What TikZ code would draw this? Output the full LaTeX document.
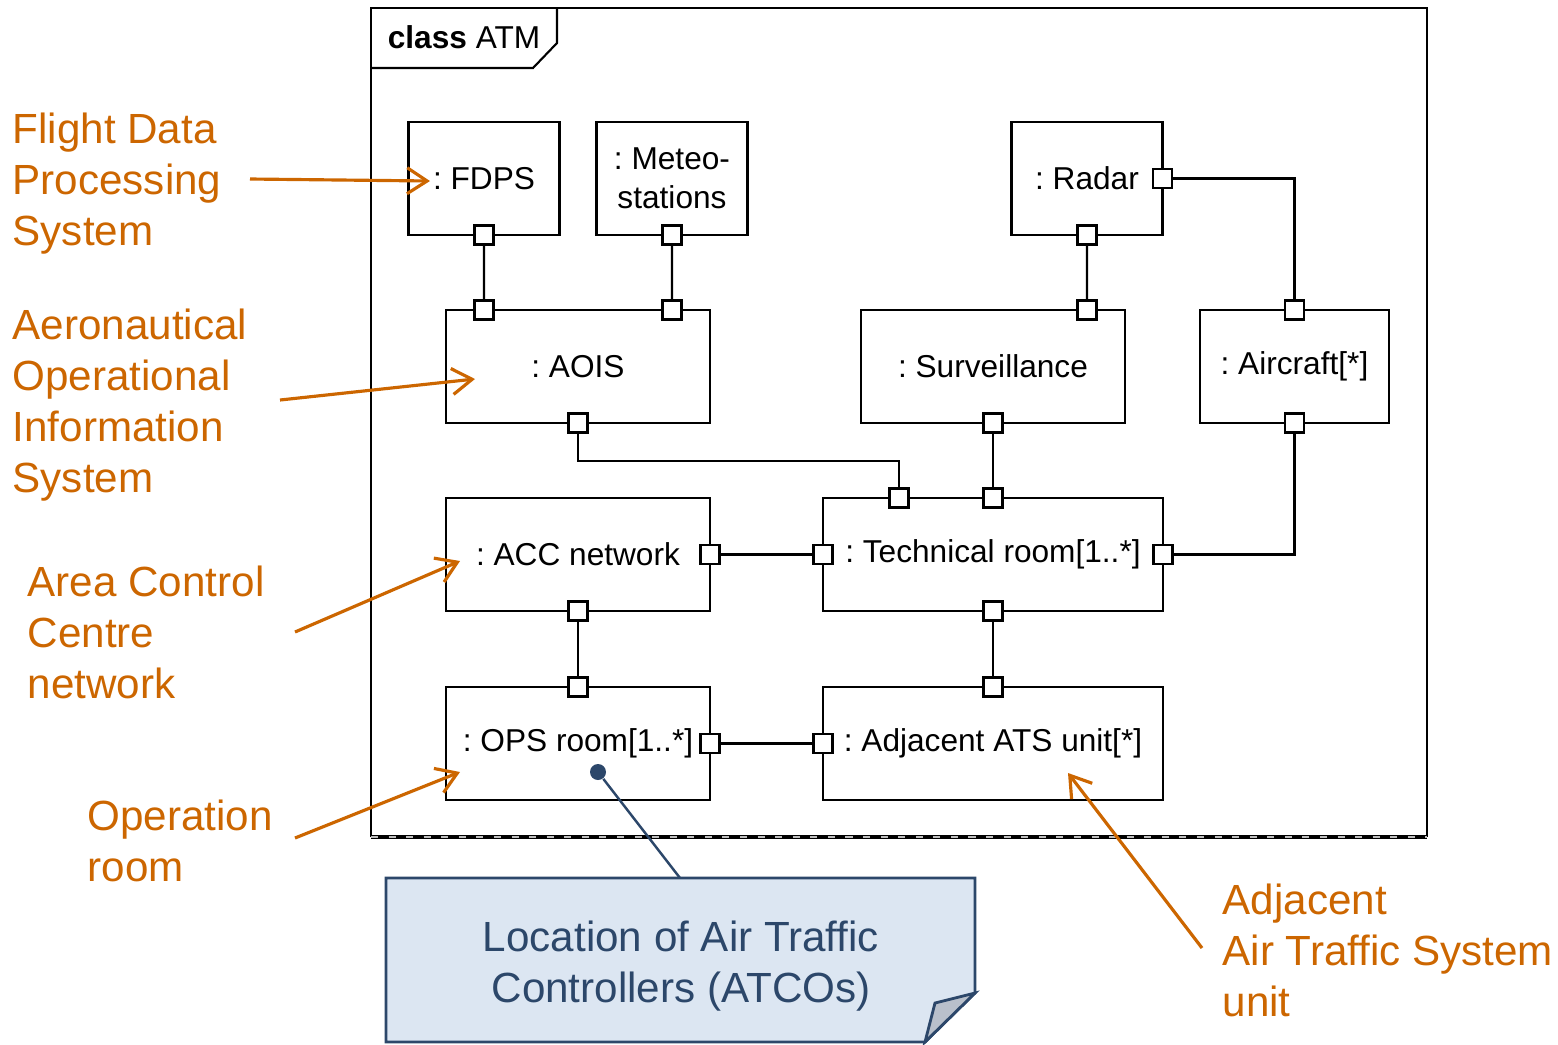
\documentclass[tikz,border=0pt]{standalone}
\usepackage{fontspec}
\setmainfont{Liberation Sans}
\usetikzlibrary{arrows.meta}
\frenchspacing

\definecolor{hint}{RGB}{204,102,0}
\definecolor{notefill}{RGB}{220,230,242}
\definecolor{noteline}{RGB}{44,71,106}
\definecolor{notefold}{RGB}{185,192,203}

\tikzset{
  part/.style={draw, line width=0.6pt, inner sep=0pt, outer sep=0pt, minimum height=1.13cm,
    align=center, font=\fontsize{9}{11}\selectfont},
  port/.style={draw, line width=0.6pt, fill=white, inner sep=0pt, outer sep=0pt, minimum size=0.19cm},
  wire/.style={line width=0.6pt},
  hinttext/.style={text=hint, align=left, anchor=north west, inner sep=0pt,
    font=\fontsize{12}{14.5}\selectfont},
  hintarrow/.style={draw=hint, line width=0.9pt, -{Straight Barb[length=2mm,width=2.6mm]}},
}

\begin{document}
\begin{tikzpicture}
  \useasboundingbox (0,0) rectangle (15.58,-10.44);

  %% frame
  \draw[line width=0.7pt] (3.71,-8.37) -- (3.71,-0.08) -- (14.27,-0.08) -- (14.27,-8.37);
  \draw[line width=1pt] (3.71,-8.37) -- (14.27,-8.37);
  \draw[gray!50, line width=0.3pt, dash pattern=on 2pt off 3pt] (3.71,-8.37) -- (14.27,-8.37);
  \draw[line width=0.6pt] (3.71,-0.68) -- (5.33,-0.68) -- (5.57,-0.43) -- (5.57,-0.08);
  \node[font=\fontsize{9}{11}\selectfont] (frametab) at (4.64,-0.37) {\textbf{class} ATM};

  %% parts
  \node[part, minimum width=1.51cm] (fdps)  at (4.84,-1.785) {: FDPS};
  \node[part, minimum width=1.51cm] (meteo) at (6.72,-1.785) {: Meteo-\\stations};
  \node[part, minimum width=1.51cm] (radar) at (10.87,-1.785) {: Radar};
  \node[part, minimum width=2.64cm] (aois)  at (5.78,-3.665) {: AOIS};
  \node[part, minimum width=2.64cm] (surv)  at (9.93,-3.665) {: Surveillance};
  \node[part, minimum width=1.89cm] (air)   at (12.945,-3.665) {: Aircraft[*]};
  \node[part, minimum width=2.64cm] (acc)   at (5.78,-5.545) {: ACC network};
  \node[part, minimum width=3.40cm] (tech)  at (9.93,-5.545) {: Technical room[1..*]};
  \node[part, minimum width=2.64cm] (ops)   at (5.78,-7.435) {: OPS room[1..*]};
  \node[part, minimum width=3.40cm] (adj)   at (9.93,-7.435) {: Adjacent ATS unit[*]};

  %% ports
  \node[port] (fdpsS)  at (fdps.south) {};
  \node[port] (meteoS) at (meteo.south) {};
  \node[port] (radarS) at (radar.south) {};
  \node[port] (radarE) at (radar.east) {};
  \node[port] (aoisN1) at ([xshift=-9.4mm]aois.north) {};
  \node[port] (aoisN2) at ([xshift=9.4mm]aois.north) {};
  \node[port] (aoisS)  at (aois.south) {};
  \node[port] (survN)  at ([xshift=9.4mm]surv.north) {};
  \node[port] (survS)  at (surv.south) {};
  \node[port] (airN)   at (air.north) {};
  \node[port] (airS)   at (air.south) {};
  \node[port] (accE)   at (acc.east) {};
  \node[port] (accS)   at (acc.south) {};
  \node[port] (techN1) at ([xshift=-9.4mm]tech.north) {};
  \node[port] (techN2) at (tech.north) {};
  \node[port] (techW)  at (tech.west) {};
  \node[port] (techE)  at (tech.east) {};
  \node[port] (techS)  at (tech.south) {};
  \node[port] (opsN)   at (ops.north) {};
  \node[port] (opsE)   at (ops.east) {};
  \node[port] (adjN)   at (adj.north) {};
  \node[port] (adjW)   at (adj.west) {};

  %% connectors
  \draw[wire] (fdpsS) -- (aoisN1);
  \draw[wire] (meteoS) -- (aoisN2);
  \draw[wire] (radarS) -- (survN);
  \draw[wire] (radarE) -| (airN);
  \draw[wire] (aoisS) -- ++(0,-0.38) -| (techN1);
  \draw[wire] (survS) -- (techN2);
  \draw[wire] (airS) |- (techE);
  \draw[wire] (accE) -- (techW);
  \draw[wire] (accS) -- (opsN);
  \draw[wire] (techS) -- (adjN);
  \draw[wire] (opsE) -- (adjW);

  %% note
  \fill[notefill] (3.86,-8.78) -- (9.75,-8.78) -- (9.75,-9.93) -- (9.25,-10.42) -- (3.86,-10.42) -- cycle;
  \draw[noteline, line width=0.8pt] (3.86,-8.78) -- (9.75,-8.78) -- (9.75,-9.93) -- (9.25,-10.42)
    -- (3.86,-10.42) -- cycle;
  \filldraw[fill=notefold, draw=noteline, line width=0.8pt] (9.75,-9.93) -- (9.35,-10.03) -- (9.25,-10.42) -- cycle;
  \node[text=noteline, align=center, anchor=north, inner sep=0pt, font=\fontsize{12}{14.5}\selectfont]
    (atconote) at (6.81,-9.20) {Location of Air Traffic\\Controllers (ATCOs)};
  \node[circle, fill=noteline, inner sep=0pt, minimum size=0.16cm] (opsdot) at (5.98,-7.72) {};
  \coordinate (notetop) at (6.80,-8.78);
  \draw[noteline, line width=0.7pt] (opsdot) -- (notetop);

  %% hints
  \node[hinttext] (fdpshint) at (0.12,-1.12) {Flight Data\\Processing\\System};
  \node[hinttext] (aoishint) at (0.12,-3.08) {Aeronautical\\Operational\\Information\\System};
  \node[hinttext] (acchint)  at (0.27,-5.65) {Area Control\\Centre\\network};
  \node[hinttext] (opshint)  at (0.87,-7.99) {Operation\\room};
  \node[hinttext] (adjhint)  at (12.22,-8.83) {Adjacent\\Air Traffic System\\unit};

  \coordinate (fdpstail) at (2.50,-1.79);
  \coordinate (fdpstip)  at (4.30,-1.81);
  \coordinate (aoistail) at (2.80,-4.00);
  \coordinate (aoistip)  at (4.75,-3.79);
  \coordinate (acctail)  at (2.95,-6.32);
  \coordinate (acctip)   at (4.60,-5.61);
  \coordinate (opstail)  at (2.95,-8.38);
  \coordinate (opstip)   at (4.60,-7.72);
  \coordinate (adjtail)  at (12.02,-9.48);
  \coordinate (adjtip)   at (10.68,-7.73);
  \draw[hintarrow] (fdpstail) -- (fdpstip);
  \draw[hintarrow] (aoistail) -- (aoistip);
  \draw[hintarrow] (acctail) -- (acctip);
  \draw[hintarrow] (opstail) -- (opstip);
  \draw[hintarrow] (adjtail) -- (adjtip);

\end{tikzpicture}
\end{document}
